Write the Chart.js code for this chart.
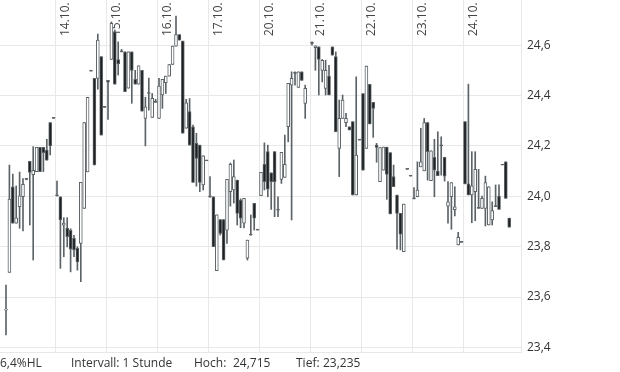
<!DOCTYPE html>
<html>
<head>
<meta charset="utf-8">
<script src="https://cdn.jsdelivr.net/npm/chart.js@4.4.1/dist/chart.umd.min.js"></script>
<style>
  html, body { margin: 0; padding: 0; background: #fff; }
  #chart { display: block; }
</style>
</head>
<body>
<canvas id="chart" width="620" height="372"></canvas>
<script>
// hourly candles, 13.10. - 24.10. (15 slots per trading day, null = no candle)
const opens = [
  23.548, 23.698, 24.038, 23.893, 23.959, 23.998, 24.067, 24.139, 24.086, 24.098, 24.194, 24.194, 24.183, 24.293, 24.309,
  24.002, 23.998, 23.885, 23.874, 23.865, 23.833, 23.793, 23.813, 23.952, 24.097, 24.497, 24.468, 24.468, 24.554, 24.353,
  24.46, 24.543, 24.653, 24.543, 24.573, 24.573, 24.429, 24.573, 24.464, 24.445, 24.5, 24.309, 24.408, 24.313, 24.373,
  24.309, 24.402, 24.451, 24.477, 24.523, 24.596, 24.642, 24.616, 24.27, 24.336, 24.276, 24.21, 24.203, 24.045, 24.141,
  23.998, 23.998, 23.705, 23.908, 23.908, 23.866, 24.018, 24.025, 24.064, 23.985, 23.893, 23.754, 23.846, 23.972, 23.866,
  24.002, 24.127, 24.177, 24.093, 24.177, 23.945, 24.067, 24.075, 24.276, 24.441, 24.488, 24.432, 24.494, 24.369, null,
  24.607, 24.59, 24.593, 24.5, 24.428, 24.477, 24.593, 24.554, 24.19, 24.309, 24.292, 24.276, 24.296, 24.005, 24.223,
  24.408, 24.19, 24.444, 24.373, 24.203, 24.058, 24.104, 24.195, 24.173, 24.078, 24.005, 23.932, 23.78, 24.107, 24.08,
  23.99, 23.998, 24.117, 24.101, 24.293, 24.062, 24.155, 24.1, 24.2, 24.155, 23.961, 23.998, 23.947, 23.807, 23.817,
  24.296, 24.049, 24.005, 24.018, 23.952, 23.952, 23.952, 23.886, 23.906, 23.959, 24.001, 24.124, 24.137, 23.913
];
const highs = [
  23.648, 24.124, 24.088, 24.041, 24.096, 24.07, 24.07, 24.139, 24.197, 24.194, 24.194, 24.194, 24.226, 24.293, 24.309,
  24.06, 23.998, 23.915, 23.915, 23.871, 23.845, 23.8, 24.055, 24.293, 24.393, 24.497, 24.468, 24.644, 24.554, 24.353,
  24.46, 24.692, 24.66, 24.613, 24.583, 24.573, 24.573, 24.573, 24.5, 24.518, 24.5, 24.393, 24.469, 24.408, 24.385,
  24.468, 24.464, 24.477, 24.523, 24.596, 24.715, 24.642, 24.616, 24.385, 24.388, 24.283, 24.25, 24.203, 24.161, 24.141,
  24.078, 23.998, 23.926, 23.908, 23.908, 24.067, 24.132, 24.144, 24.064, 23.99, 23.992, 23.826, 23.926, 23.972, 23.866,
  24.095, 24.212, 24.203, 24.093, 24.177, 23.998, 24.174, 24.243, 24.448, 24.494, 24.494, 24.494, 24.494, 24.441, null,
  24.613, 24.597, 24.593, 24.543, 24.54, 24.52, 24.593, 24.573, 24.382, 24.402, 24.329, 24.276, 24.296, 24.474, 24.223,
  24.408, 24.517, 24.444, 24.373, 24.21, 24.193, 24.195, 24.195, 24.173, 24.124, 24.005, 23.932, 23.969, 24.107, 24.08,
  24.035, 24.137, 24.27, 24.309, 24.293, 24.18, 24.226, 24.256, 24.236, 24.155, 24.058, 24.054, 24.038, 23.857, 23.817,
  24.296, 24.445, 24.177, 24.177, 24.107, 24.001, 24.08, 24.038, 23.978, 24.045, 24.045, 24.124, 24.137, 23.913
];
const lows = [
  23.45, 23.698, 23.893, 23.893, 23.873, 23.863, 24.065, 23.886, 23.747, 24.098, 24.098, 24.098, 24.143, 24.164, 24.309,
  24.0, 23.714, 23.76, 23.799, 23.7, 23.76, 23.707, 23.661, 23.952, 24.097, 24.497, 24.124, 24.425, 24.243, 24.353,
  24.305, 24.543, 24.445, 24.481, 24.573, 24.415, 24.429, 24.369, 24.445, 24.445, 24.338, 24.2, 24.342, 24.313, 24.373,
  24.309, 24.349, 24.408, 24.477, 24.523, 24.596, 24.62, 24.25, 24.27, 24.203, 24.055, 24.04, 24.018, 24.025, 24.141,
  23.995, 23.8, 23.705, 23.846, 23.747, 23.813, 23.961, 23.973, 23.886, 23.875, 23.874, 23.747, 23.846, 23.866, 23.866,
  24.002, 24.025, 23.998, 23.948, 23.919, 23.919, 24.051, 24.075, 24.216, 23.906, 24.441, 24.432, 24.46, 24.309, null,
  24.6, 24.5, 24.402, 24.454, 24.402, 24.402, 24.56, 24.256, 24.078, 24.309, 24.276, 24.263, 24.005, 24.005, 24.223,
  24.104, 24.19, 24.287, 24.234, 24.135, 24.058, 24.104, 23.988, 23.93, 24.038, 23.79, 23.787, 23.78, 24.107, 24.08,
  23.99, 23.998, 24.117, 24.101, 24.064, 24.062, 23.998, 24.082, 24.084, 24.06, 23.893, 23.869, 23.922, 23.807, 23.817,
  24.049, 24.005, 23.895, 23.903, 23.952, 23.952, 23.882, 23.886, 23.886, 23.959, 23.948, 24.124, 23.992, 23.877
];
const closes = [
  23.55, 23.989, 23.893, 23.914, 24.002, 24.047, 24.067, 24.095, 24.103, 24.194, 24.098, 24.173, 24.143, 24.2, 24.309,
  24.002, 23.906, 23.894, 23.84, 23.79, 23.787, 23.74, 24.055, 24.293, 24.393, 24.497, 24.124, 24.62, 24.243, 24.353,
  24.453, 24.686, 24.445, 24.525, 24.573, 24.415, 24.573, 24.5, 24.445, 24.518, 24.338, 24.355, 24.408, 24.389, 24.373,
  24.437, 24.464, 24.477, 24.523, 24.596, 24.642, 24.62, 24.25, 24.371, 24.203, 24.055, 24.15, 24.055, 24.161, 24.141,
  23.998, 23.8, 23.926, 23.853, 23.747, 24.067, 24.127, 24.078, 23.932, 23.913, 23.992, 23.826, 23.846, 23.913, 23.866,
  24.095, 24.058, 24.028, 24.058, 24.058, 23.945, 24.174, 24.127, 24.448, 24.468, 24.488, 24.494, 24.46, 24.428, null,
  24.607, 24.597, 24.543, 24.54, 24.5, 24.402, 24.56, 24.256, 24.309, 24.382, 24.309, 24.263, 24.005, 24.164, 24.223,
  24.104, 24.517, 24.287, 24.349, 24.194, 24.193, 24.195, 24.087, 23.93, 24.038, 23.932, 23.85, 23.969, 24.107, 24.08,
  23.99, 24.025, 24.137, 24.293, 24.177, 24.18, 24.104, 24.082, 24.2, 24.08, 23.978, 24.054, 23.958, 23.837, 23.817,
  24.049, 24.005, 24.041, 24.107, 23.952, 23.992, 24.054, 24.038, 23.943, 23.959, 23.948, 24.124, 23.992, 23.877
];

const dayLabels = ['14.10.', '15.10.', '16.10.', '17.10.', '20.10.', '21.10.', '22.10.', '23.10.', '24.10.'];
const dayStarts = [15, 30, 45, 60, 75, 90, 105, 120, 135];
const yTicks = [23.4, 23.6, 23.8, 24.0, 24.2, 24.4, 24.6];
const footerTexts = ['6,4%HL', 'Intervall: 1 Stunde', 'Hoch:', '24,715', 'Tief:', '23,235'];
const footerX = [0, 71, 194, 233, 296, 323];

const WICK = '#5c6367';
const DARK = '#1e2022';
const GRID = '#e8e8e8';
const FONT = '"Open Sans", "Noto Sans", sans-serif';

const wickData = [];
const bodyData = [];
const bodyColors = [];
opens.forEach((o, i) => {
  if (o === null) return;
  const c = closes[i];
  wickData.push({ x: i, y: [lows[i], highs[i]] });
  bodyData.push({ x: i, y: [Math.min(o, c), Math.max(o, c)] });
  bodyColors.push(c > o ? '#ffffff' : (c < o ? DARK : WICK));
});

// date labels in the plot, footer line under it
const overlayText = {
  id: 'overlayText',
  beforeDatasetsDraw(chart) {
    const { ctx, scales: { x } } = chart;
    ctx.save();
    ctx.font = '12px ' + FONT;
    ctx.fillStyle = '#444';
    ctx.textAlign = 'left';
    ctx.textBaseline = 'alphabetic';
    dayStarts.forEach((s, k) => {
      const px = x.getPixelForValue(s - 0.5);
      ctx.save();
      ctx.translate(px + 14, 36);
      ctx.rotate(-Math.PI / 2);
      ctx.fillText(dayLabels[k], 0, 0);
      ctx.restore();
    });
    ctx.restore();
  },
  afterDraw(chart) {
    const { ctx } = chart;
    ctx.save();
    ctx.font = '12px ' + FONT;
    ctx.fillStyle = '#333';
    ctx.textAlign = 'left';
    ctx.textBaseline = 'alphabetic';
    footerTexts.forEach((t, k) => ctx.fillText(t, footerX[k], 367));
    ctx.restore();
  }
};

new Chart(document.getElementById('chart'), {
  type: 'bar',
  data: {
    datasets: [
      {
        label: 'Body',
        data: bodyData,
        backgroundColor: bodyColors,
        borderColor: WICK,
        borderWidth: 1,
        borderSkipped: false,
        barThickness: 3,
        minBarLength: 1,
        grouped: false,
        order: 0,
      },
      {
        label: 'Wick',
        data: wickData,
        backgroundColor: WICK,
        borderWidth: 0,
        barThickness: 1,
        grouped: false,
        order: 1,
      },
    ],
  },
  options: {
    responsive: false,
    animation: false,
    devicePixelRatio: 1,
    layout: { padding: { left: 0, right: 0, top: 0, bottom: 20 } },
    plugins: { legend: { display: false }, tooltip: { enabled: false } },
    scales: {
      x: {
        type: 'linear',
        min: -1.765,
        max: 151.47,
        offset: false,
        afterBuildTicks: (scale) => { scale.ticks = dayStarts.map(s => ({ value: s - 0.5 })); },
        afterFit: (scale) => { scale.paddingLeft = 0; scale.paddingRight = 0; },
        ticks: { display: false },
        grid: { color: GRID, drawTicks: false, offset: false },
        border: { color: GRID },
      },
      y: {
        position: 'right',
        min: 23.382,
        max: 24.779,
        afterBuildTicks: (scale) => { scale.ticks = yTicks.map(v => ({ value: v })); },
        afterFit: (scale) => {
          scale.width = 99;
          scale.paddingTop = 0;
          scale.paddingBottom = 0;
        },
        ticks: {
          padding: 6,
          color: '#333',
          font: { family: FONT, size: 12 },
          callback: (v) => Number(v).toFixed(1).replace('.', ','),
        },
        grid: { color: GRID, drawTicks: false },
        border: { color: GRID },
      },
    },
  },
  plugins: [overlayText],
});
</script>
</body>
</html>
